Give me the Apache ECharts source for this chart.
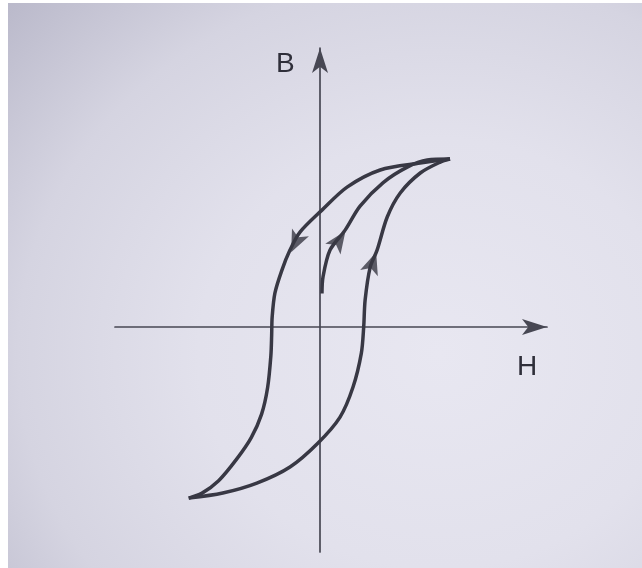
<!DOCTYPE html>
<html>
<head>
<meta charset="utf-8">
<script src="https://cdn.jsdelivr.net/npm/echarts@6/dist/echarts.min.js"></script>
<style>
  html, body { margin: 0; padding: 0; background: #ffffff; }
  #paper {
    position: absolute; left: 8px; top: 3px; width: 634px; height: 565px;
    background: radial-gradient(ellipse 95% 95% at 68% 62%, #e8e7f1 0%, #e2e1ec 40%, #d5d4e1 70%, #bcbbcc 95%, #a9a8bb 115%);
  }
  #chart { position: absolute; left: 0; top: 0; width: 642px; height: 568px; }
</style>
</head>
<body>
<div id="paper"></div>
<div id="chart"></div>
<script>
// Hysteresis loop B(H) (H and B normalised to the tip values)
const descendingBranch = [
  [1.00, 1.00], [0.77, 0.976], [0.463, 0.935], [0.208, 0.833], [0.015, 0.696],
  [-0.154, 0.565], [-0.231, 0.458], [-0.293, 0.339], [-0.347, 0.202], [-0.368, 0.06],
  [-0.372, -0.05], [-0.378, -0.17], [-0.403, -0.36], [-0.45, -0.52], [-0.53, -0.66],
  [-0.64, -0.785], [-0.78, -0.915], [-0.91, -0.99], [-1.01, -1.018]
];
const ascendingBranch = [
  [-1.01, -1.018], [-0.748, -0.988], [-0.486, -0.929], [-0.231, -0.833], [-0.015, -0.69],
  [0.154, -0.536], [0.254, -0.357], [0.318, -0.155], [0.336, 0.0], [0.347, 0.161],
  [0.386, 0.357], [0.439, 0.458], [0.517, 0.655], [0.617, 0.798], [0.771, 0.917],
  [0.925, 0.982], [1.00, 1.00]
];
const initialCurve = [
  [0.015, 0.20], [0.023, 0.298], [0.077, 0.458], [0.193, 0.577], [0.308, 0.72],
  [0.486, 0.86], [0.671, 0.952], [0.825, 0.994], [1.00, 1.00]
];
// arrowheads sitting on the three branches: [H, B]
const arrowPoints = [[-0.222, 0.445], [0.196, 0.571], [0.432, 0.445]];
const arrowAngles = [155, -35, -19];   // direction of travel along each branch (style)
const axisNames = ['H', 'B'];

const chart = echarts.init(document.getElementById('chart'), null, { renderer: 'canvas' });
const curveColor = '#383844';
const axisColor = '#474753';

const hiddenAxis = {
  axisTick: { show: false }, axisLabel: { show: false }, splitLine: { show: false }
};

chart.setOption({
  backgroundColor: 'transparent',
  animation: false,
  grid: { left: 115, right: 95, top: 48, bottom: 16, containLabel: false },
  xAxis: Object.assign({
    type: 'value', min: -1.577, max: 1.746,
    axisLine: { onZero: true, symbol: ['none', 'arrow'], symbolSize: [12, 25],
      lineStyle: { color: axisColor, width: 1.7 } }
  }, hiddenAxis),
  yAxis: Object.assign({
    type: 'value', min: -1.339, max: 1.661,
    axisLine: { onZero: true, symbol: ['none', 'arrow'], symbolSize: [12, 25],
      lineStyle: { color: axisColor, width: 1.7 } }
  }, hiddenAxis),
  graphic: [
    { type: 'text', left: 517, top: 353, style: { text: axisNames[0], font: '500 28px "Liberation Sans", Arial, sans-serif', fill: '#2f2f3a' } },
    { type: 'text', left: 276, top: 50, style: { text: axisNames[1], font: '500 28px "Liberation Sans", Arial, sans-serif', fill: '#2f2f3a' } }
  ],
  series: [
    { type: 'line', data: descendingBranch, smooth: 0.3, showSymbol: false,
      lineStyle: { color: curveColor, width: 3.5 } },
    { type: 'line', data: ascendingBranch, smooth: 0.3, showSymbol: false,
      lineStyle: { color: curveColor, width: 3.5 } },
    { type: 'line', data: initialCurve, smooth: 0.3, showSymbol: false,
      lineStyle: { color: curveColor, width: 3.5 } },
    { type: 'scatter', data: arrowPoints, symbol: 'arrow', symbolSize: [14, 22],
      symbolRotate: function (v, p) { return arrowAngles[p.dataIndex]; },
      itemStyle: { color: curveColor }, z: 5 }
  ]
});
</script>
</body>
</html>
